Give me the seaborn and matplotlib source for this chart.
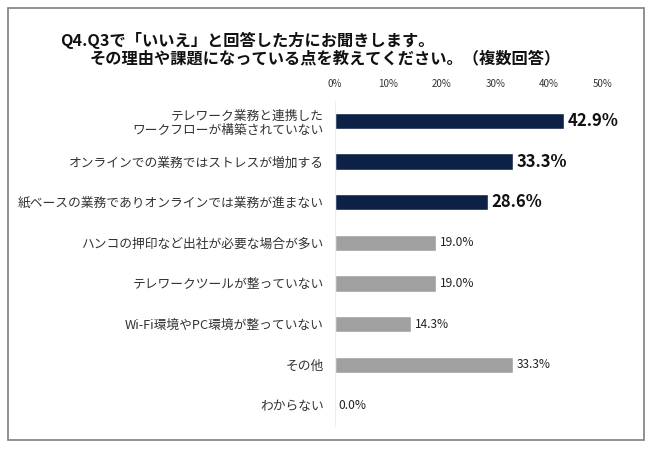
import matplotlib
matplotlib.use("Agg")
import matplotlib.pyplot as plt
import seaborn as sns
import pandas as pd
from matplotlib.patches import Rectangle

# Data
categories = [
    "テレワーク業務と連携した\nワークフローが構築されていない",
    "オンラインでの業務ではストレスが増加する",
    "紙ベースの業務でありオンラインでは業務が進まない",
    "ハンコの押印など出社が必要な場合が多い",
    "テレワークツールが整っていない",
    "Wi-Fi環境やPC環境が整っていない",
    "その他",
    "わからない",
]
values = [42.9, 33.3, 28.6, 19.0, 19.0, 14.3, 33.3, 0.0]
highlight = [True, True, True, False, False, False, False, False]
tick_values = [0, 10, 20, 30, 40, 50]
tick_labels = ["0%", "10%", "20%", "30%", "40%", "50%"]

NAVY = "#031E50"
GRAY = "#A0A0A0"

sns.set_style("white")
plt.rcParams["font.family"] = ["Noto Sans CJK JP", "DejaVu Sans"]

df = pd.DataFrame({"category": categories, "value": values,
                   "group": ["hi" if h else "lo" for h in highlight]})

fig = plt.figure(figsize=(6.5, 4.49), dpi=100)
ax = fig.add_axes([0.515, 0.052, 0.416, 0.724])

sns.barplot(data=df, y="category", x="value", hue="group",
            palette={"hi": NAVY, "lo": GRAY}, width=0.4, dodge=False,
            legend=False, ax=ax, orient="h")

ax.set_xlim(0, 50.5)
ax.set_xticks(tick_values)
ax.set_xticklabels(tick_labels, fontsize=7, color="#333333")
ax.xaxis.tick_top()
ax.tick_params(axis="x", length=0, pad=8)
ax.tick_params(axis="y", length=0, pad=8, labelsize=9.2, labelcolor="#333333")
ax.set_xlabel("")
ax.set_ylabel("")
for s in ["top", "right", "bottom"]:
    ax.spines[s].set_visible(False)
ax.spines["left"].set_color("#EEEEEE")
ax.spines["left"].set_linewidth(0.8)
for lbl in ax.get_yticklabels():
    lbl.set_horizontalalignment("right")
    lbl.set_multialignment("right")

for i, (v, h) in enumerate(zip(values, highlight)):
    if h:
        ax.text(v + 0.6, i, f"{v:.1f}%", va="center", ha="left",
                fontsize=12, fontweight="bold", color="#111111")
    else:
        ax.text(v + 0.6, i, f"{v:.1f}%", va="center", ha="left",
                fontsize=8.6, color="#222222")

# title lines
fig.text(60 / 650, 1 - 40 / 449, "Q4.Q3で「いいえ」と回答した方にお聞きします。",
         fontsize=11.7, fontweight="bold", va="center", ha="left", color="#111111")
fig.text(90 / 650, 1 - 58 / 449, "その理由や課題になっている点を教えてください。（複数回答）",
         fontsize=11.7, fontweight="bold", va="center", ha="left", color="#111111")

# outer frame
fig.patches.append(Rectangle((8 / 650, 1 - 440 / 449), 636 / 650, 432 / 449,
                             transform=fig.transFigure, fill=False,
                             edgecolor="#7F7F7F", linewidth=1.2))

fig.savefig("out.png", dpi=100)
